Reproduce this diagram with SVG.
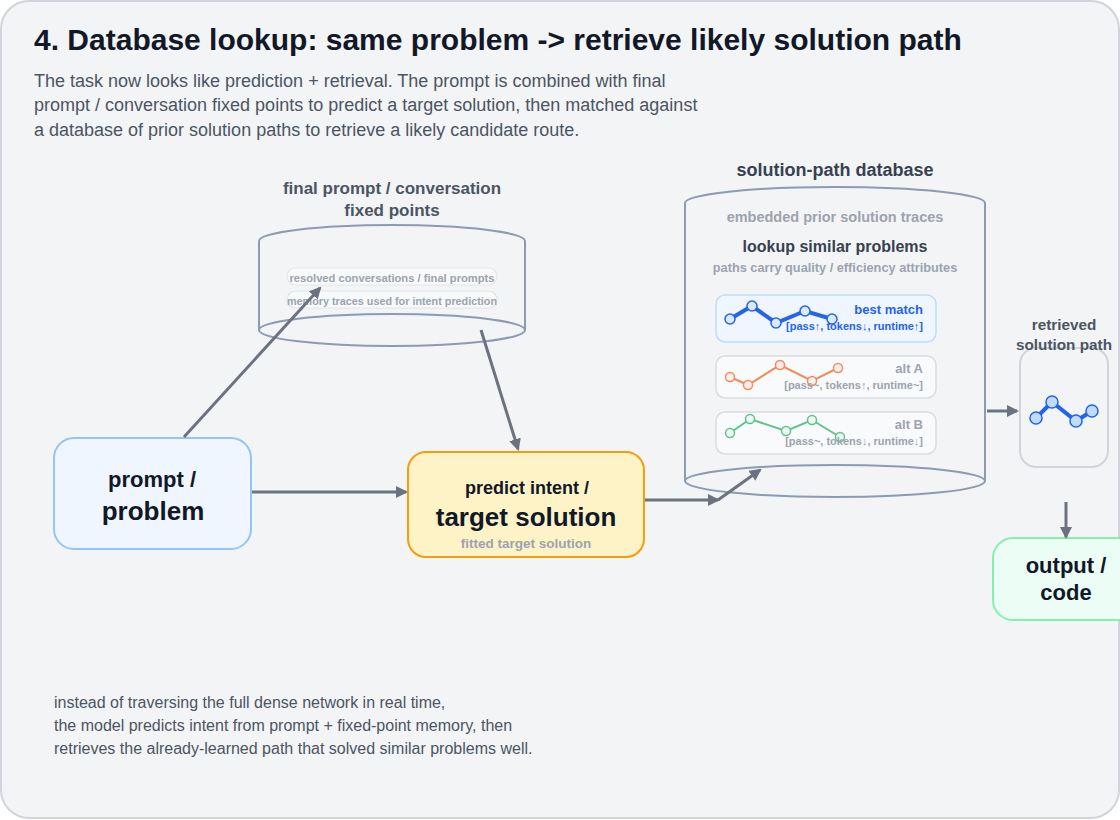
<svg xmlns="http://www.w3.org/2000/svg" width="1120" height="820" viewBox="0 0 1120 820">
<style>
text{font-family:"Liberation Sans",Arial,sans-serif}
.b{font-weight:bold}
.mid{text-anchor:middle}
.end{text-anchor:end}
.body{font-size:18px;fill:#4b5563}
.note{font-size:16px;fill:#4b5563}
.cyl{fill:none;stroke:#8b9bb4;stroke-width:2}
.pill{fill:#f8f9fb;stroke:#e2e5ea;stroke-width:1.2}
.pilltxt{font-size:11.2px;font-weight:bold;fill:#9ca3af}
.card{fill:#f9fafb;stroke:#d9dce1;stroke-width:1.5}
.conn{stroke:#6b7280;stroke-width:3;fill:none;marker-end:url(#ah)}
.grey{fill:#9ca3af}
</style>
<defs>
<marker id="ah" viewBox="0 0 12 12" refX="10" refY="6" markerWidth="12" markerHeight="12" markerUnits="userSpaceOnUse" orient="auto">
<path d="M0,0 L12,6 L0,12 z" fill="#6b7280"/>
</marker>
</defs>
<rect x="1" y="1" width="1118" height="817" rx="28" fill="#f3f4f6" stroke="#d1d5db" stroke-width="2"/>
<text x="34" y="50" class="b" font-size="30" fill="#111827">4. Database lookup: same problem -&gt; retrieve likely solution path</text>
<text class="body"><tspan x="34" y="87">The task now looks like prediction + retrieval. The prompt is combined with final</tspan><tspan x="34" y="111">prompt / conversation fixed points to predict a target solution, then matched against</tspan><tspan x="34" y="136">a database of prior solution paths to retrieve a likely candidate route.</tspan></text>

<g id="fixed-points">
<text x="392" y="194" class="b mid" font-size="17" fill="#4b5563">final prompt / conversation</text>
<text x="392" y="216" class="b mid" font-size="17" fill="#4b5563">fixed points</text>
<path class="cyl" d="M259,241 A133,16 0 0 1 525,241 M259,241 L259,330 M525,241 L525,330"/>
<ellipse class="cyl" cx="392" cy="330" rx="133" ry="16"/>
<rect class="pill" x="287" y="268" width="210" height="17" rx="8.5"/>
<text x="392" y="281.5" class="pilltxt mid">resolved conversations / final prompts</text>
<rect class="pill" x="287" y="291" width="210" height="17" rx="8.5"/>
<text x="392" y="304.5" class="pilltxt mid" textLength="210" lengthAdjust="spacingAndGlyphs">memory traces used for intent prediction</text>
</g>

<g id="database">
<text x="835" y="176" class="b mid" font-size="18" fill="#374151">solution-path database</text>
<path class="cyl" d="M685,203 A150,16 0 0 1 985,203 M685,203 L685,481 M985,203 L985,481"/>
<ellipse class="cyl" cx="835" cy="481" rx="150" ry="16"/>
<text x="835" y="222" class="b mid grey" font-size="14.5">embedded prior solution traces</text>
<text x="835" y="252" class="b mid" font-size="16" fill="#374151">lookup similar problems</text>
<text x="835" y="272" class="b mid grey" font-size="12.75">paths carry quality / efficiency attributes</text>
<g id="best-match">
<rect x="716" y="295" width="220" height="47" rx="9" fill="#eff6ff" stroke="#bfdbfe" stroke-width="1.5"/>
<polyline points="730,319 752,306 776,323 805,311 832,319" fill="none" stroke="#2563eb" stroke-width="4"/>
<g fill="#dbeafe" stroke="#2563eb" stroke-width="1.5"><circle cx="730" cy="319" r="5"/><circle cx="752" cy="306" r="5"/><circle cx="776" cy="323" r="5"/><circle cx="805" cy="311" r="5"/><circle cx="832" cy="319" r="5"/></g>
<text x="923" y="314" class="b end" font-size="13" fill="#2563eb">best match</text>
<text x="923" y="330" class="b end" font-size="11" fill="#2563eb">[pass↑, tokens↓, runtime↑]</text>
</g>
<g id="alt-a">
<rect class="card" x="716" y="356" width="220" height="42" rx="9"/>
<polyline points="730,377 748,385 780,365 812,381 838,368" fill="none" stroke="#f28a5c" stroke-width="2"/>
<g fill="#fdf0ea" stroke="#f28a5c" stroke-width="1.5"><circle cx="730" cy="377" r="4.5"/><circle cx="748" cy="385" r="4.5"/><circle cx="780" cy="365" r="4.5"/><circle cx="812" cy="381" r="4.5"/><circle cx="838" cy="368" r="4.5"/></g>
<text x="923" y="373" class="b end grey" font-size="13">alt A</text>
<text x="923" y="389" class="b end grey" font-size="11">[pass~, tokens↑, runtime~]</text>
</g>
<g id="alt-b">
<rect class="card" x="716" y="412" width="220" height="42" rx="9"/>
<polyline points="730,433 750,419 786,431 812,420 840,437" fill="none" stroke="#5ec48b" stroke-width="2"/>
<g fill="#eefaf3" stroke="#5ec48b" stroke-width="1.5"><circle cx="730" cy="433" r="4.5"/><circle cx="750" cy="419" r="4.5"/><circle cx="786" cy="431" r="4.5"/><circle cx="812" cy="420" r="4.5"/><circle cx="840" cy="437" r="4.5"/></g>
<text x="923" y="429" class="b end grey" font-size="13">alt B</text>
<text x="923" y="445" class="b end grey" font-size="11">[pass~, tokens↓, runtime↓]</text>
</g>
</g>

<g id="retrieved">
<rect x="1020" y="348" width="88" height="119" rx="16" fill="none" stroke="#d1d5db" stroke-width="2"/>
<text x="1064" y="330" class="b mid" font-size="15.3" fill="#4b5563">retrieved</text>
<text x="1064" y="350" class="b mid" font-size="15.3" fill="#4b5563">solution path</text>
<polyline points="1036,418 1052,402 1076,421 1092,411" fill="none" stroke="#2563eb" stroke-width="4"/>
<g fill="#bfdbfe" stroke="#2563eb" stroke-width="1.5"><circle cx="1036" cy="418" r="6"/><circle cx="1052" cy="402" r="6"/><circle cx="1076" cy="421" r="6"/><circle cx="1092" cy="411" r="6"/></g>
</g>

<g id="prompt">
<rect x="54" y="438" width="197" height="111" rx="20" fill="#eff6ff" stroke="#93c5fd" stroke-width="2"/>
<text x="152" y="487" class="b mid" font-size="22" fill="#111827">prompt /</text>
<text x="153" y="520" class="b mid" font-size="26" fill="#111827">problem</text>
</g>

<g id="predict">
<rect x="408" y="452" width="236" height="105" rx="18" fill="#fef3c7" stroke="#f59e0b" stroke-width="2"/>
<text x="527" y="494" class="b mid" font-size="18" fill="#111827">predict intent /</text>
<text x="526" y="526" class="b mid" font-size="26" fill="#111827">target solution</text>
<text x="526" y="548" class="b mid grey" font-size="13.5">fitted target solution</text>
</g>

<g id="output">
<rect x="993" y="538" width="145" height="82" rx="20" fill="#ecfdf5" stroke="#86efac" stroke-width="2"/>
<text x="1066" y="573" class="b mid" font-size="22" fill="#111827">output /</text>
<text x="1066" y="600" class="b mid" font-size="22" fill="#111827">code</text>
</g>

<g id="connectors">
<line class="conn" x1="252" y1="492" x2="406" y2="492"/>
<line class="conn" x1="184" y1="437" x2="320" y2="288"/>
<line class="conn" x1="481" y1="330" x2="518" y2="449"/>
<line class="conn" x1="645" y1="500" x2="718" y2="500"/>
<line class="conn" x1="718" y1="500" x2="760" y2="470"/>
<line class="conn" x1="987" y1="411" x2="1017" y2="411"/>
<line class="conn" x1="1066" y1="502" x2="1066" y2="537"/>
</g>

<text class="note"><tspan x="54" y="708">instead of traversing the full dense network in real time,</tspan><tspan x="54" y="731">the model predicts intent from prompt + fixed-point memory, then</tspan><tspan x="54" y="754">retrieves the already-learned path that solved similar problems well.</tspan></text>
</svg>
